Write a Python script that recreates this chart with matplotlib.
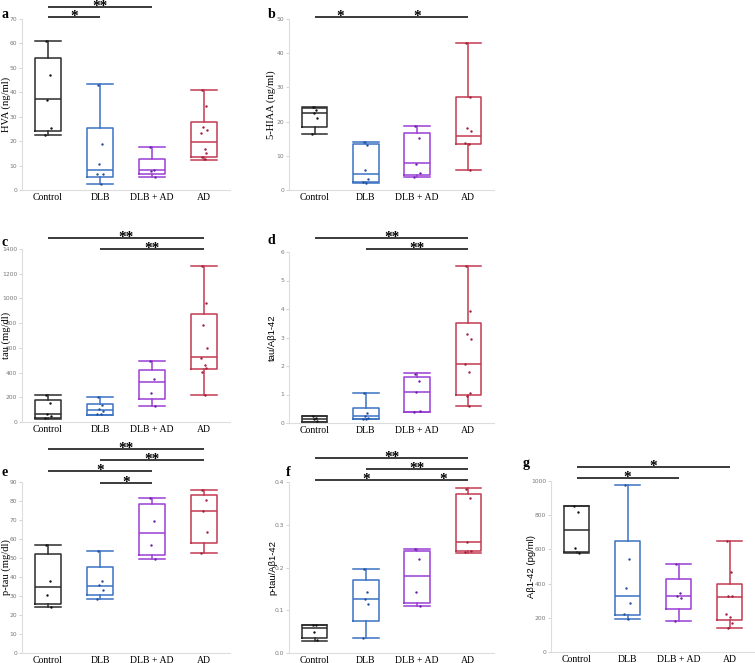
import matplotlib.pyplot as plt
from matplotlib import font_manager
from matplotlib.transforms import blended_transform_factory

W, H = 755, 663

groups = ['Control', 'DLB', 'DLB + AD', 'AD']
box_colors = ['#2b2b2b', '#3a72c2', '#9b3fd4', '#c23a52']
dot_colors = ['#111111', '#1f4f9e', '#6a1fa8', '#9e1f3a']
jitter = [-0.04, 0.03, -0.02, 0.05, -0.06, 0.01, 0.04, -0.03, 0.02]

# box stats per group: whislo, q1, median, q3, whishi
hva_box = [[22.5, 24.1, 37.2, 54.2, 61.0], [2.6, 5.3, 8.3, 25.2, 43.2],
           [5.2, 6.5, 8.0, 12.8, 17.7], [12.4, 13.4, 19.8, 28.0, 40.8]]
hva_pts = [[61, 47, 37, 25.5, 22.5], [43, 19, 10.5, 6.4, 6.4, 2.6],
           [17.7, 8.0, 7.8, 5.2], [40.8, 34.5, 25.7, 24.5, 23.2, 16.8, 15.0, 13.6, 12.5]]

hiaa_box = [[16.3, 18.5, 22.4, 23.9, 24.4], [2.0, 2.3, 4.6, 13.4, 14.1],
            [3.9, 4.4, 7.8, 16.8, 18.7], [5.8, 13.5, 15.8, 27.1, 43.1]]
hiaa_pts = [[24.2, 23.4, 22.4, 21.1, 16.3], [14.0, 13.2, 5.8, 3.2, 2.4, 2.0],
            [18.7, 15.1, 7.6, 5.1, 3.9], [43.0, 27.1, 18.1, 17.3, 13.8, 13.5, 5.8]]

tau_box = [[27, 35, 62, 181, 222], [54, 60, 100, 149, 203],
           [133, 187, 322, 420, 493], [222, 425, 523, 875, 1266]]
tau_pts = [[222, 150, 62, 45, 30], [205, 135, 103, 90, 68, 62],
           [493, 350, 238, 133], [1266, 962, 786, 596, 520, 463, 434, 406, 222]]

ratio_box = [[0.04, 0.05, 0.13, 0.25, 0.25], [0.13, 0.15, 0.23, 0.54, 1.06],
             [0.37, 0.39, 1.10, 1.61, 1.74], [0.61, 1.0, 2.06, 3.52, 5.52]]
ratio_pts = [[0.24, 0.19, 0.13, 0.07], [1.06, 0.36, 0.24, 0.19, 0.15, 0.14],
             [1.73, 1.49, 1.10, 0.43, 0.38], [5.52, 3.94, 3.14, 2.93, 2.06, 1.79, 1.05, 0.94, 0.61]]

ptau_box = [[24.3, 25.7, 34.6, 52.1, 57.0], [28.3, 30.6, 35.5, 45.5, 53.8],
            [49.3, 51.4, 62.9, 78.3, 81.5], [52.4, 58.0, 74.8, 82.9, 85.7]]
ptau_pts = [[57.0, 38.1, 30.6, 24.3], [53.8, 37.8, 35.7, 32.9, 28.3],
            [81.5, 69.6, 56.8, 49.3], [85.7, 80.6, 74.8, 63.8, 52.4]]

pratio_box = [[0.028, 0.034, 0.058, 0.065, 0.065], [0.035, 0.074, 0.126, 0.171, 0.197],
              [0.109, 0.117, 0.179, 0.238, 0.244], [0.234, 0.238, 0.260, 0.372, 0.385]]
pratio_pts = [[0.066, 0.066, 0.049, 0.030], [0.197, 0.142, 0.127, 0.114, 0.035],
              [0.244, 0.219, 0.142, 0.110], [0.384, 0.362, 0.260, 0.238, 0.236]]

ab_box = [[579, 586, 711, 852, 854], [192, 216, 330, 650, 975],
          [183, 250, 330, 427, 517], [142, 186, 320, 398, 647]]
ab_pts = [[854, 816, 606, 581], [975, 546, 377, 285, 221, 192],
          [517, 346, 330, 317, 183], [647, 466, 330, 326, 225, 206, 167, 142]]

# panel: letter, box, points, ylabel, serif label?, ymax, step, tick fmt, significance bars
panels = [
    ('a', hva_box, hva_pts, 'HVA (ng/ml)', True, 70, 10, '{:.0f}',
     [(0, 1, 17, '*'), (0, 2, 7, '**')]),
    ('b', hiaa_box, hiaa_pts, '5-HIAA (ng/ml)', True, 50, 10, '{:.0f}',
     [(0, 1, 17, '*'), (1, 3, 17, '*')]),
    ('c', tau_box, tau_pts, 'tau (mg/dl)', True, 1400, 200, '{:.0f}',
     [(0, 3, 238, '**'), (1, 3, 249, '**')]),
    ('d', ratio_box, ratio_pts, 'tau/A\u03b21-42', False, 6, 1, '{:.0f}',
     [(0, 3, 238, '**'), (1, 3, 249, '**')]),
    ('e', ptau_box, ptau_pts, 'p-tau (mg/dl)', True, 90, 10, '{:.0f}',
     [(0, 3, 449, '**'), (1, 3, 460, '**'), (0, 2, 471, '*'), (1, 2, 483, '*')]),
    ('f', pratio_box, pratio_pts, 'p-tau/A\u03b21-42', False, 0.4, 0.1, '{:.1f}',
     [(0, 3, 458, '**'), (1, 3, 469, '**'), (0, 2, 480, '*'), (2, 3, 480, '*')]),
    ('g', ab_box, ab_pts, 'A\u03b21-42 (pg/ml)', False, 1000, 200, '{:.0f}',
     [(0, 3, 467, '*'), (0, 2, 478, '*')]),
]

# pixel frames: left, top, right, bottom, letter x, letter y, ylabel x
frames = [
    (22, 19, 230, 190, 2, 15, 1),
    (289, 19, 494, 190, 268, 15, 266),
    (22, 249, 230, 422, 2, 243, 1),
    (289, 252, 494, 423, 268, 241, 268),
    (22, 482, 230, 653, 2, 472, 1),
    (289, 482, 494, 653, 286, 473, 268),
    (551, 481, 755, 652, 523, 464, 527),
]

names = {f.name for f in font_manager.fontManager.ttflist}
if 'Liberation Sans Narrow' in names:
    sans_fam, sans_size = 'Liberation Sans Narrow', 8
else:
    sans_fam, sans_size = 'Liberation Sans', 6.8

fig = plt.figure(figsize=(W / 100, H / 100), dpi=100)

for p, fr in zip(panels, frames):
    letter, box, pts, ylab, serif, ymax, step, fmt, bars = p
    l, t, r, b, lx, ly, ylx = fr
    ax = fig.add_axes([l / W, 1 - b / H, (r - l) / W, (b - t) / H])
    stats = []
    for g, s in zip(groups, box):
        stats.append(dict(whislo=s[0], q1=s[1], med=s[2], q3=s[3], whishi=s[4], label=g))
    art = ax.bxp(stats, positions=[1, 2, 3, 4], widths=0.5, capwidths=0.5,
                 showfliers=False, patch_artist=False)
    for i, c in enumerate(box_colors):
        art['boxes'][i].set(color=c, linewidth=1.1)
        art['medians'][i].set(color=c, linewidth=1.1)
        for k in (2 * i, 2 * i + 1):
            art['whiskers'][k].set(color=c, linewidth=1.1)
            art['caps'][k].set(color=c, linewidth=1.1)
        xs = [i + 1 + jitter[j % len(jitter)] for j in range(len(pts[i]))]
        ax.scatter(xs, pts[i], s=3, color=dot_colors[i], zorder=3, linewidths=0)

    ax.set_xlim(0.5, 4.5)
    ax.set_ylim(0, ymax)
    n = int(round(ymax / step))
    ticks = [k * step for k in range(n + 1)]
    ax.set_yticks(ticks)
    ax.set_yticklabels([fmt.format(v) for v in ticks])
    ax.tick_params(axis='y', labelsize=4.3, labelcolor='#777777', color='#cccccc',
                   length=2, width=0.6, pad=1.5)
    ax.tick_params(axis='x', length=0, labelsize=7, pad=2)
    for lab in ax.get_xticklabels():
        lab.set_family('Liberation Serif')
    for sp in ('top', 'right'):
        ax.spines[sp].set_visible(False)
    for sp in ('left', 'bottom'):
        ax.spines[sp].set_color('#dddddd')
        ax.spines[sp].set_linewidth(0.8)

    if serif:
        fig.text(ylx / W, 1 - (t + b) / 2 / H, ylab, rotation=90, ha='left', va='center',
                 fontsize=7.6, family='Liberation Serif')
    else:
        fig.text(ylx / W, 1 - (t + b) / 2 / H, ylab, rotation=90, ha='left', va='center',
                 fontsize=sans_size, family=sans_fam)
    fig.text(lx / W, 1 - ly / H, letter, ha='left', va='center', fontsize=10,
             family='Liberation Serif', fontweight='bold')

    tr = blended_transform_factory(ax.transData, ax.transAxes)
    hpx = b - t
    for i, j, ypx, txt in bars:
        yf = (b - ypx) / hpx
        ax.plot([i + 1, j + 1], [yf, yf], color='#3a3a3a', linewidth=1.4,
                transform=tr, clip_on=False, solid_capstyle='butt')
        ax.text((i + j) / 2 + 1, yf - 3.0 / hpx, txt, transform=tr, ha='center',
                va='baseline', fontsize=11, family='Liberation Serif', fontweight='bold',
                clip_on=False)

fig.savefig('out.png', dpi=100)
